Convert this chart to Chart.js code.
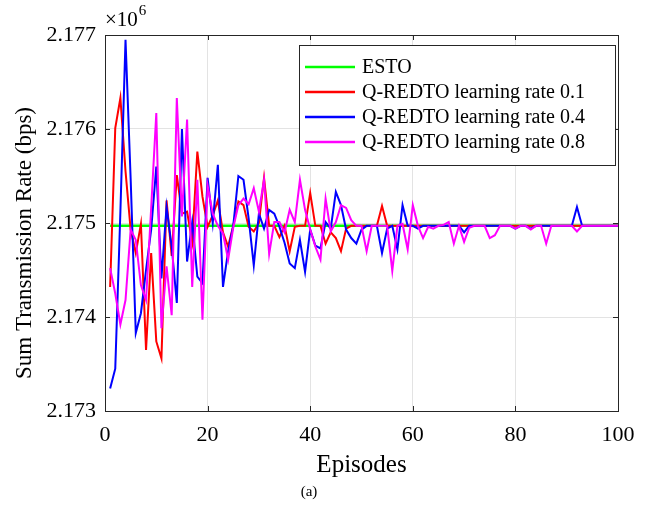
<!DOCTYPE html>
<html>
<head>
<meta charset="utf-8">
<script src="https://cdn.jsdelivr.net/npm/chart.js@4/dist/chart.umd.min.js"></script>
<style>
  html, body { margin: 0; padding: 0; background: #fff; }
  #wrap { width: 649px; height: 512px; position: relative; }
</style>
</head>
<body>
<div id="wrap"><canvas id="myChart" width="649" height="512"></canvas></div>
<script>
// episodes 1..100, values in units of 10^6 bps
const episodes = Array.from({ length: 100 }, (_, i) => i + 1);
const yTicks = [2.173, 2.174, 2.175, 2.176, 2.177];
const xTicks = [0, 20, 40, 60, 80, 100];

const esto = Array(100).fill(2.17497);

const rate01 = [
  2.17432, 2.17601, 2.17633, 2.17555, 2.17493, 2.17468, 2.17499, 2.17365, 2.17468, 2.17374,
  2.17356, 2.17524, 2.17465, 2.17551, 2.17510, 2.17512, 2.17480, 2.17576, 2.17528, 2.17496,
  2.17508, 2.17524, 2.17490, 2.17475, 2.17497, 2.17523, 2.17519, 2.17496, 2.17491, 2.17500,
  2.17548, 2.17497, 2.17497, 2.17485, 2.17497, 2.17470, 2.17496, 2.17497, 2.17497, 2.17532,
  2.17497, 2.17497, 2.17478, 2.17490, 2.17484, 2.17470, 2.17494, 2.17497, 2.17497, 2.17497,
  2.17497, 2.17497, 2.17497, 2.17518, 2.17497, 2.17497, 2.17497, 2.17497, 2.17497, 2.17497,
  2.17497, 2.17497, 2.17497, 2.17497, 2.17497, 2.17497, 2.17497, 2.17497, 2.17497, 2.17497,
  2.17497, 2.17497, 2.17497, 2.17497, 2.17497, 2.17497, 2.17497, 2.17497, 2.17497, 2.17497,
  2.17497, 2.17497, 2.17497, 2.17497, 2.17497, 2.17497, 2.17497, 2.17497, 2.17497, 2.17497,
  2.17497, 2.17497, 2.17497, 2.17497, 2.17497, 2.17497, 2.17497, 2.17497, 2.17497, 2.17497
];

const rate04 = [
  2.17324, 2.17345, 2.17512, 2.17695, 2.17547, 2.17383, 2.17404, 2.17450, 2.17493, 2.17560,
  2.17441, 2.17517, 2.17475, 2.17415, 2.17600, 2.17459, 2.17501, 2.17443, 2.17436, 2.17548,
  2.17500, 2.17562, 2.17432, 2.17470, 2.17497, 2.17550, 2.17546, 2.17505, 2.17455, 2.17510,
  2.17494, 2.17514, 2.17510, 2.17496, 2.17479, 2.17457, 2.17452, 2.17482, 2.17448, 2.17493,
  2.17476, 2.17473, 2.17501, 2.17494, 2.17533, 2.17519, 2.17493, 2.17484, 2.17478, 2.17493,
  2.17497, 2.17497, 2.17497, 2.17468, 2.17494, 2.17497, 2.17472, 2.17519, 2.17497, 2.17497,
  2.17494, 2.17497, 2.17497, 2.17497, 2.17497, 2.17497, 2.17497, 2.17497, 2.17497, 2.17490,
  2.17497, 2.17497, 2.17497, 2.17497, 2.17497, 2.17497, 2.17497, 2.17497, 2.17497, 2.17494,
  2.17497, 2.17497, 2.17494, 2.17497, 2.17497, 2.17497, 2.17497, 2.17497, 2.17497, 2.17497,
  2.17497, 2.17517, 2.17497, 2.17497, 2.17497, 2.17497, 2.17497, 2.17497, 2.17497, 2.17497
];

const rate08 = [
  2.17452, 2.17425, 2.17392, 2.17418, 2.17493, 2.17482, 2.17434, 2.17418, 2.17516, 2.17617,
  2.17388, 2.17454, 2.17402, 2.17633, 2.17507, 2.17610, 2.17432, 2.17546, 2.17397, 2.17540,
  2.17510, 2.17497, 2.17489, 2.17461, 2.17495, 2.17519, 2.17526, 2.17520, 2.17537, 2.17512,
  2.17546, 2.17467, 2.17501, 2.17501, 2.17490, 2.17514, 2.17501, 2.17546, 2.17514, 2.17493,
  2.17475, 2.17461, 2.17526, 2.17491, 2.17501, 2.17519, 2.17516, 2.17503, 2.17497, 2.17497,
  2.17470, 2.17497, 2.17497, 2.17497, 2.17497, 2.17449, 2.17497, 2.17499, 2.17472, 2.17519,
  2.17497, 2.17484, 2.17496, 2.17494, 2.17497, 2.17498, 2.17501, 2.17478, 2.17497, 2.17480,
  2.17495, 2.17497, 2.17497, 2.17497, 2.17484, 2.17487, 2.17497, 2.17497, 2.17497, 2.17494,
  2.17497, 2.17497, 2.17493, 2.17497, 2.17497, 2.17478, 2.17497, 2.17497, 2.17497, 2.17497,
  2.17497, 2.17491, 2.17497, 2.17497, 2.17497, 2.17497, 2.17497, 2.17497, 2.17497, 2.17497
];

const seriesLabels = ['ESTO', 'Q-REDTO learning rate 0.1', 'Q-REDTO learning rate 0.4', 'Q-REDTO learning rate 0.8'];
const seriesValues = [esto, rate01, rate04, rate08];
const seriesColors = ['#00ff00', '#ff0000', '#0000ff', '#ff00ff'];
const yTitle = 'Sum Transmission Rate (bps)';

const serif = "'Liberation Serif', 'Times New Roman', serif";

// box, inward ticks, legend, y label and the x10^6 mark
const matlabLook = {
  id: 'matlabLook',
  afterDatasetsDraw(chart) {
    const { ctx, chartArea: a, scales } = chart;
    ctx.save();
    ctx.strokeStyle = '#262626';
    ctx.lineWidth = 1;
    ctx.beginPath();
    xTicks.forEach((t) => {
      const px = Math.round(scales.x.getPixelForValue(t)) + 0.5;
      ctx.moveTo(px, a.bottom); ctx.lineTo(px, a.bottom - 5);
      ctx.moveTo(px, a.top); ctx.lineTo(px, a.top + 5);
    });
    yTicks.forEach((t) => {
      const py = Math.round(scales.y.getPixelForValue(t)) + 0.5;
      ctx.moveTo(a.left, py); ctx.lineTo(a.left + 5, py);
      ctx.moveTo(a.right, py); ctx.lineTo(a.right - 5, py);
    });
    ctx.stroke();
    ctx.strokeRect(Math.round(a.left) + 0.5, Math.round(a.top) + 0.5,
      Math.round(a.right - a.left), Math.round(a.bottom - a.top));

    // legend
    const lx = 299, ly = 45, lw = 316, lh = 120;
    ctx.fillStyle = '#fff';
    ctx.fillRect(lx, ly, lw, lh);
    ctx.strokeStyle = '#262626';
    ctx.strokeRect(lx + 0.5, ly + 0.5, lw, lh);
    ctx.font = '20px ' + serif;
    ctx.textBaseline = 'middle';
    ctx.textAlign = 'left';
    chart.data.datasets.forEach((ds, i) => {
      const y = 67 + i * 25;
      ctx.strokeStyle = ds.borderColor;
      ctx.lineWidth = 2.5;
      ctx.beginPath();
      ctx.moveTo(305, y); ctx.lineTo(355, y);
      ctx.stroke();
      ctx.fillStyle = '#000';
      ctx.fillText(ds.label, 362, y + 1);
    });

    // y axis label, sits a little below the middle like the original
    ctx.save();
    ctx.translate(25, 243);
    ctx.rotate(-Math.PI / 2);
    ctx.textAlign = 'center';
    ctx.font = '23px ' + serif;
    ctx.fillText(yTitle, 0, 0);
    ctx.restore();

    // exponent
    ctx.fillStyle = '#000';
    ctx.textBaseline = 'alphabetic';
    ctx.textAlign = 'left';
    ctx.font = '21px ' + serif;
    ctx.fillText('\u00d710', 105, 26);
    const w = ctx.measureText('\u00d710').width;
    ctx.font = '15px ' + serif;
    ctx.fillText('6', 105 + w + 1, 15);
    ctx.restore();
  }
};

const ctx = document.getElementById('myChart');
new Chart(ctx, {
  type: 'line',
  data: {
    datasets: seriesValues.map((vals, i) => ({
      label: seriesLabels[i],
      data: episodes.map((e, j) => ({ x: e, y: vals[j] })),
      borderColor: seriesColors[i],
      backgroundColor: seriesColors[i],
      borderWidth: i === 0 ? 2.5 : 2,
      pointRadius: 0,
      tension: 0,
      order: 3 - i
    }))
  },
  options: {
    responsive: false,
    animation: false,
    devicePixelRatio: 1,
    layout: { padding: { left: 0, top: 35, right: 31, bottom: 0 } },
    plugins: {
      legend: { display: false },
      tooltip: { enabled: false },
      title: {
        display: true,
        position: 'bottom',
        text: '(a)',
        color: '#000',
        font: { family: serif, size: 15, weight: 'normal' },
        padding: { top: 0, bottom: 11 }
      }
    },
    scales: {
      x: {
        type: 'linear',
        min: 0,
        max: 100,
        afterBuildTicks: (s) => { s.ticks = xTicks.map((v) => ({ value: v })); },
        afterFit: (s) => { s.height = 72; },
        grid: { color: '#e3e3e3', drawTicks: false },
        border: { display: false },
        ticks: { color: '#000', padding: 11, maxRotation: 0, font: { family: serif, size: 22 } },
        title: {
          display: true,
          text: 'Episodes',
          color: '#000',
          font: { family: serif, size: 25 },
          padding: { top: 0, bottom: 3 }
        }
      },
      y: {
        min: 2.173,
        max: 2.177,
        afterBuildTicks: (s) => { s.ticks = yTicks.map((v) => ({ value: v })); },
        afterFit: (s) => { s.width = 105; },
        grid: { color: '#e3e3e3', drawTicks: false },
        border: { display: false },
        ticks: {
          color: '#000',
          padding: 9,
          font: { family: serif, size: 22 },
          callback: (v) => v.toFixed(3)
        }
      }
    }
  },
  plugins: [matlabLook]
});
</script>
</body>
</html>
